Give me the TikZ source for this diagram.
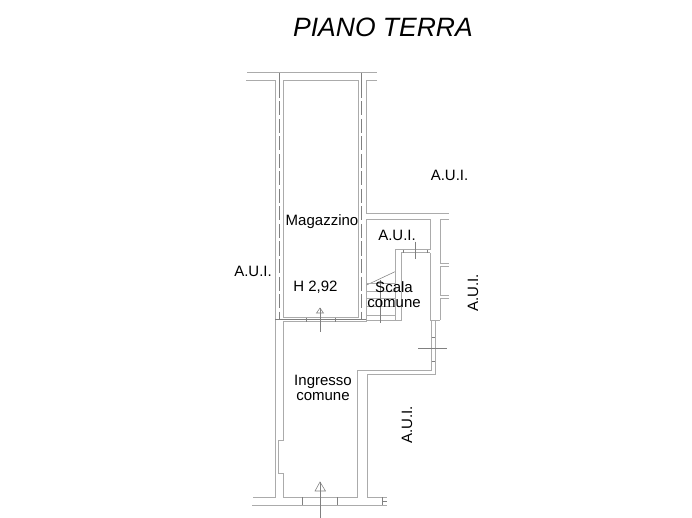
\documentclass[tikz,border=0pt]{standalone}
\usepackage{fontspec}
\setmainfont{Liberation Sans}
\usetikzlibrary{positioning}

\begin{document}
\begin{tikzpicture}[x=1pt, y=-1pt,
        wall/.style={line width=1pt, black!33},
        thin/.style={line width=0.55pt, black!50},
        axis/.style={line width=0.55pt, black!50, dash pattern=on 14pt off 3.5pt},
        t/.style={font=\fontsize{15}{15}\selectfont, align=center, inner sep=0pt}]
        \useasboundingbox (0, 0) rectangle (692, 518);

        % upper room
        \draw[wall] (247, 72.7) -- (377, 72.7);
        \draw[wall] (246, 81) -- (275, 81) -- (275, 497) -- (253, 497);
        \draw[wall] (283.3, 317.7) -- (283.3, 81) -- (358, 81) -- (358, 317.7) -- cycle;
        \draw[wall] (377, 81) -- (366, 81) -- (366, 214) -- (449, 214);
        \draw[axis] (279.5, 84) -- (279.5, 320);
        \draw[axis] (361.5, 84) -- (361.5, 320);
        \draw[thin] (279.5, 72.7) -- (279.5, 84);
        \draw[thin] (361.5, 72.7) -- (361.5, 84);

        % passage between the rooms
        \draw[wall] (283.3, 321.7) -- (366, 321.7) -- (366, 220) -- (430, 220) -- (430, 250) -- (395, 250) -- (395, 320) -- (401, 320) -- (401, 253) -- (430, 253);
        \draw[thin] (275, 319.7) -- (366, 319.7);
        \foreach \xx in {306, 335} {
            \draw[thin] (\xx, 317.7) -- (\xx, 321.7);
        }
        \draw[thin] (403, 250) -- (403, 253);
        \draw[thin] (427, 250) -- (427, 253);
        \draw[thin] (415.7, 241.7) -- (415.7, 259);

        % stairs
        \draw[thin] (366.7, 285) -- (395, 271.7);
        \foreach \yy in {283, 291, 298, 306.7, 315} {
            \draw[wall, line width=0.6pt] (366, \yy) -- (395, \yy);
        }
        \draw[wall] (366, 320) -- (395, 320);
        \draw[thin] (380.7, 280) -- (380.7, 322.7);

        % right side
        \draw[wall] (430, 253) -- (430, 320) -- (440, 320);
        \draw[wall] (449, 220) -- (440, 220) -- (440, 263) -- (449, 263);
        \draw[wall] (449, 266) -- (440, 266) -- (440, 295) -- (449, 295);
        \draw[wall] (449, 298) -- (440, 298) -- (440, 320);
        \draw[wall] (431.7, 320) -- (431.7, 370.7) -- (357.3, 370.7) -- (357.3, 497) -- (283.3, 497) -- (283.3, 473) -- (278.7, 473) -- (278.7, 440) -- (283.3, 440) -- (283.3, 321.7);
        \draw[wall] (435, 320) -- (435, 374.7) -- (367.7, 374.7) -- (367.7, 497) -- (386.7, 497);
        \draw[thin] (418, 348) -- (447, 348);
        \draw[thin] (431.7, 337) -- (435, 337);
        \draw[thin] (431.7, 361) -- (435, 361);

        % bottom
        \draw[wall] (252, 505) -- (386.7, 505);
        \draw[thin] (302.3, 497) -- (302.3, 505);
        \draw[thin] (337.3, 497) -- (337.3, 505);
        \draw[thin] (382, 497) -- (382, 505);
        \draw[thin] (382, 501) -- (386.7, 501);

        % section marks
        \draw[thin] (320, 308) -- (316.5, 313) -- (323.5, 313) -- cycle;
        \draw[thin] (320, 308) -- (320, 332);
        \draw[thin] (320, 482) -- (315, 491) -- (325.5, 491) -- cycle;
        \draw[thin] (320, 482) -- (320, 517.5);

        % texts
        \node[t, font=\fontsize{26.5}{26.5}\selectfont\itshape] (title) at (383, 27) {PIANO TERRA};
        \node[t] (aui1) at (449.5, 175) {A.U.I.};
        \node[t] (aui2) at (397, 235) {A.U.I.};
        \node[t] (aui3) at (253, 271) {A.U.I.};
        \node[t, rotate=90] (aui4) at (473, 293) {A.U.I.};
        \node[t, rotate=90] (aui5) at (407, 425) {A.U.I.};
        \node[t] (magazzino) at (322, 222) {Magazzino};
        \node[t] (altezza) at (315.5, 287) {H 2,92};
        \node[t] (scala) at (394, 294.5) {Scala\\comune};
        \node[t] (ingresso) at (323, 388) {Ingresso\\comune};
    \end{tikzpicture}
\end{document}
